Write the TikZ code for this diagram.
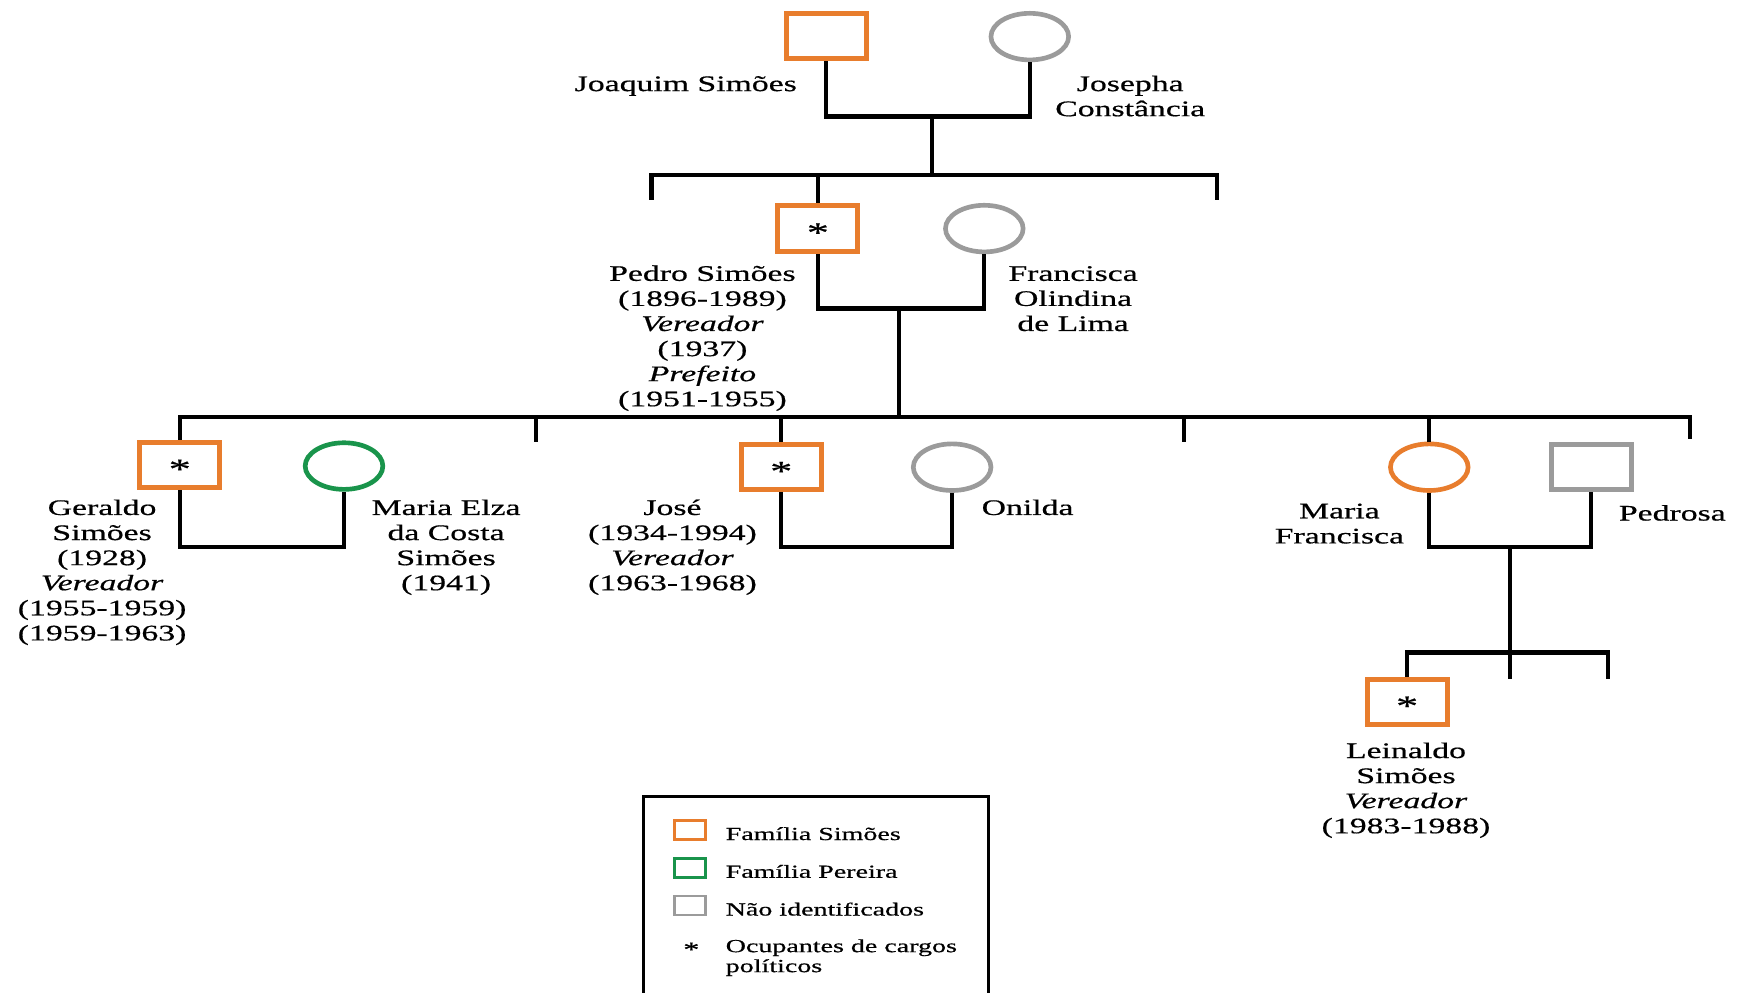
\documentclass[tikz,border=0pt]{standalone}
\usepackage{fontspec}
\setmainfont{Liberation Serif}[FakeStretch=1.52,FakeBold=0.6]
\usetikzlibrary{shapes.geometric}

\definecolor{simoes}{RGB}{232,125,45}
\definecolor{pereira}{RGB}{25,148,75}
\definecolor{naoid}{RGB}{155,155,155}

\begin{document}
\begin{tikzpicture}[x=1pt,y=-1pt,
  male/.style={rectangle,draw,line width=4.4pt,minimum width=72pt,minimum height=41pt,inner sep=0pt,
    font=\fontsize{26}{26}\selectfont},
  female/.style={ellipse,draw,line width=4.2pt,minimum width=70pt,minimum height=42pt,inner sep=0pt},
  link/.style={line width=3.8pt,line join=miter},
  who/.style={inner sep=0pt,outer sep=0pt,align=center,anchor=north,font=\fontsize{20}{22.6}\selectfont},
  legtext/.style={inner sep=0pt,outer sep=0pt,align=left,anchor=north west,font=\fontsize{16.6}{18}\selectfont},
  legsq/.style={rectangle,draw,line width=2.4pt,minimum width=28pt,minimum height=17pt,inner sep=0pt},
  legbox/.style={line width=2.6pt,line join=miter}
]
\useasboundingbox (0,0) rectangle (1568,894);

\newcommand{\politico}{\raisebox{-12.2pt}[0pt][0pt]{*}}

% ---- first generation
\node[male,draw=simoes] (joaquim) at (744.5,32.5) {};
\node[female,draw=naoid] (josepha) at (928,33) {};
\node[who] (tjoaquim) at (618,66.25) {\strut Joaquim Simões};
\node[who] (tjosepha) at (1018.5,66.25) {\strut Josepha\\Constância};

\coordinate (g1mid) at (840,105);
\coordinate (g1bar) at (840,158);
\coordinate (g1l) at (587,180);
\coordinate (g1r) at (1097,180);

% ---- second generation
\node[male,draw=simoes] (pedro) at (737,206) {\politico};
\node[female,draw=naoid] (francisca) at (887,206) {};
\node[who] (tpedro) at (633,237.25) {\strut Pedro Simões\\(1896-1989)\\\textit{Vereador}\\(1937)\\\textit{Prefeito}\\(1951-1955)};
\node[who] (tfrancisca) at (967,237.25) {\strut Francisca\\Olindina\\de Lima};

\coordinate (g2mid) at (810,278);
\coordinate (g2bar) at (810,376);
\coordinate (g2t1) at (483,398);
\coordinate (g2t2) at (1067,398);
\coordinate (g2r) at (1523,396);

% ---- third generation
\node[male,draw=simoes] (geraldo) at (162,419) {\politico};
\node[female,draw=pereira] (mariaelza) at (310,420) {};
\node[male,draw=simoes] (jose) at (704,421) {\politico};
\node[female,draw=naoid] (onilda) at (858,421) {};
\node[female,draw=simoes] (mariaf) at (1288,421) {};
\node[male,draw=naoid] (pedrosa) at (1434,421) {};

\node[who] (tgeraldo) at (92,448.25) {\strut Geraldo\\Simões\\(1928)\\\textit{Vereador}\\(1955-1959)\\(1959-1963)};
\node[who] (tmariaelza) at (402,448.25) {\strut Maria Elza\\da Costa\\Simões\\(1941)};
\node[who] (tjose) at (606,448.25) {\strut José\\(1934-1994)\\\textit{Vereador}\\(1963-1968)};
\node[who] (tonilda) at (926,448.25) {\strut Onilda};
\node[who] (tmariaf) at (1207,451.25) {\strut Maria\\Francisca};
\node[who] (tpedrosa) at (1507,453.25) {\strut Pedrosa};

\coordinate (g3a) at (236,493);
\coordinate (g3b) at (781,493);
\coordinate (g3c) at (1361,493);
\coordinate (g3bar) at (1361,588);
\coordinate (g3mt) at (1361,612);
\coordinate (g3r) at (1449,612);

% ---- fourth generation
\node[male,draw=simoes] (leinaldo) at (1268,632.5) {\politico};
\node[who] (tleinaldo) at (1267,667.25) {\strut Leinaldo\\Simões\\\textit{Vereador}\\(1983-1988)};

% ---- couples and descent
\draw[link] (joaquim.south) |- (g1mid) -| (josepha.south);
\draw[link] (g1mid) -- (g1bar);
\draw[link] (g1l) -- (g1l |- g1bar) -- (g1r |- g1bar) -- (g1r);
\draw[link] (pedro.north |- g1bar) -- (pedro.north);

\draw[link] (pedro.south) |- (g2mid) -| (francisca.south);
\draw[link] (g2mid) -- (g2bar);
\draw[link] (geraldo.north) -- (geraldo.north |- g2bar) -- (g2r |- g2bar) -- (g2r);
\draw[link] (g2t1 |- g2bar) -- (g2t1);
\draw[link] (g2t2 |- g2bar) -- (g2t2);
\draw[link] (jose.north |- g2bar) -- (jose.north);
\draw[link] (mariaf.north |- g2bar) -- (mariaf.north);

\draw[link] (geraldo.south) |- (g3a) -| (mariaelza.south);
\draw[link] (jose.south) |- (g3b) -| (onilda.south);
\draw[link] (mariaf.south) |- (g3c) -| (pedrosa.south);
\draw[link] (g3c) -- (g3mt);
\draw[link] (leinaldo.north) -- (leinaldo.north |- g3bar) -- (g3r |- g3bar) -- (g3r);

% ---- legend
\coordinate (lgbl) at (580,896);
\coordinate (lgtl) at (580,718);
\coordinate (lgtr) at (891,718);
\coordinate (lgbr) at (891,896);
\draw[legbox] (lgbl) -- (lgtl) -- (lgtr) -- (lgbr);

\node[legsq,draw=simoes] (lsimoes) at (622,748) {};
\node[legsq,draw=pereira] (lpereira) at (622,782) {};
\node[legsq,draw=naoid] (lnaoid) at (622,816) {};
\node[inner sep=0pt,font=\fontsize{19}{19}\selectfont] (lpolitico) at (623,853) {\raisebox{-8.9pt}[0pt][0pt]{*}};

\node[legtext] (tlsimoes) at (654,744.4) {\strut Família Simões};
\node[legtext] (tlpereira) at (654,778.4) {\strut Família Pereira};
\node[legtext] (tlnaoid) at (654,812.4) {\strut Não identificados};
\node[legtext] (tlpolitico) at (654,845.4) {\strut Ocupantes de cargos\\políticos};
\end{tikzpicture}
\end{document}
